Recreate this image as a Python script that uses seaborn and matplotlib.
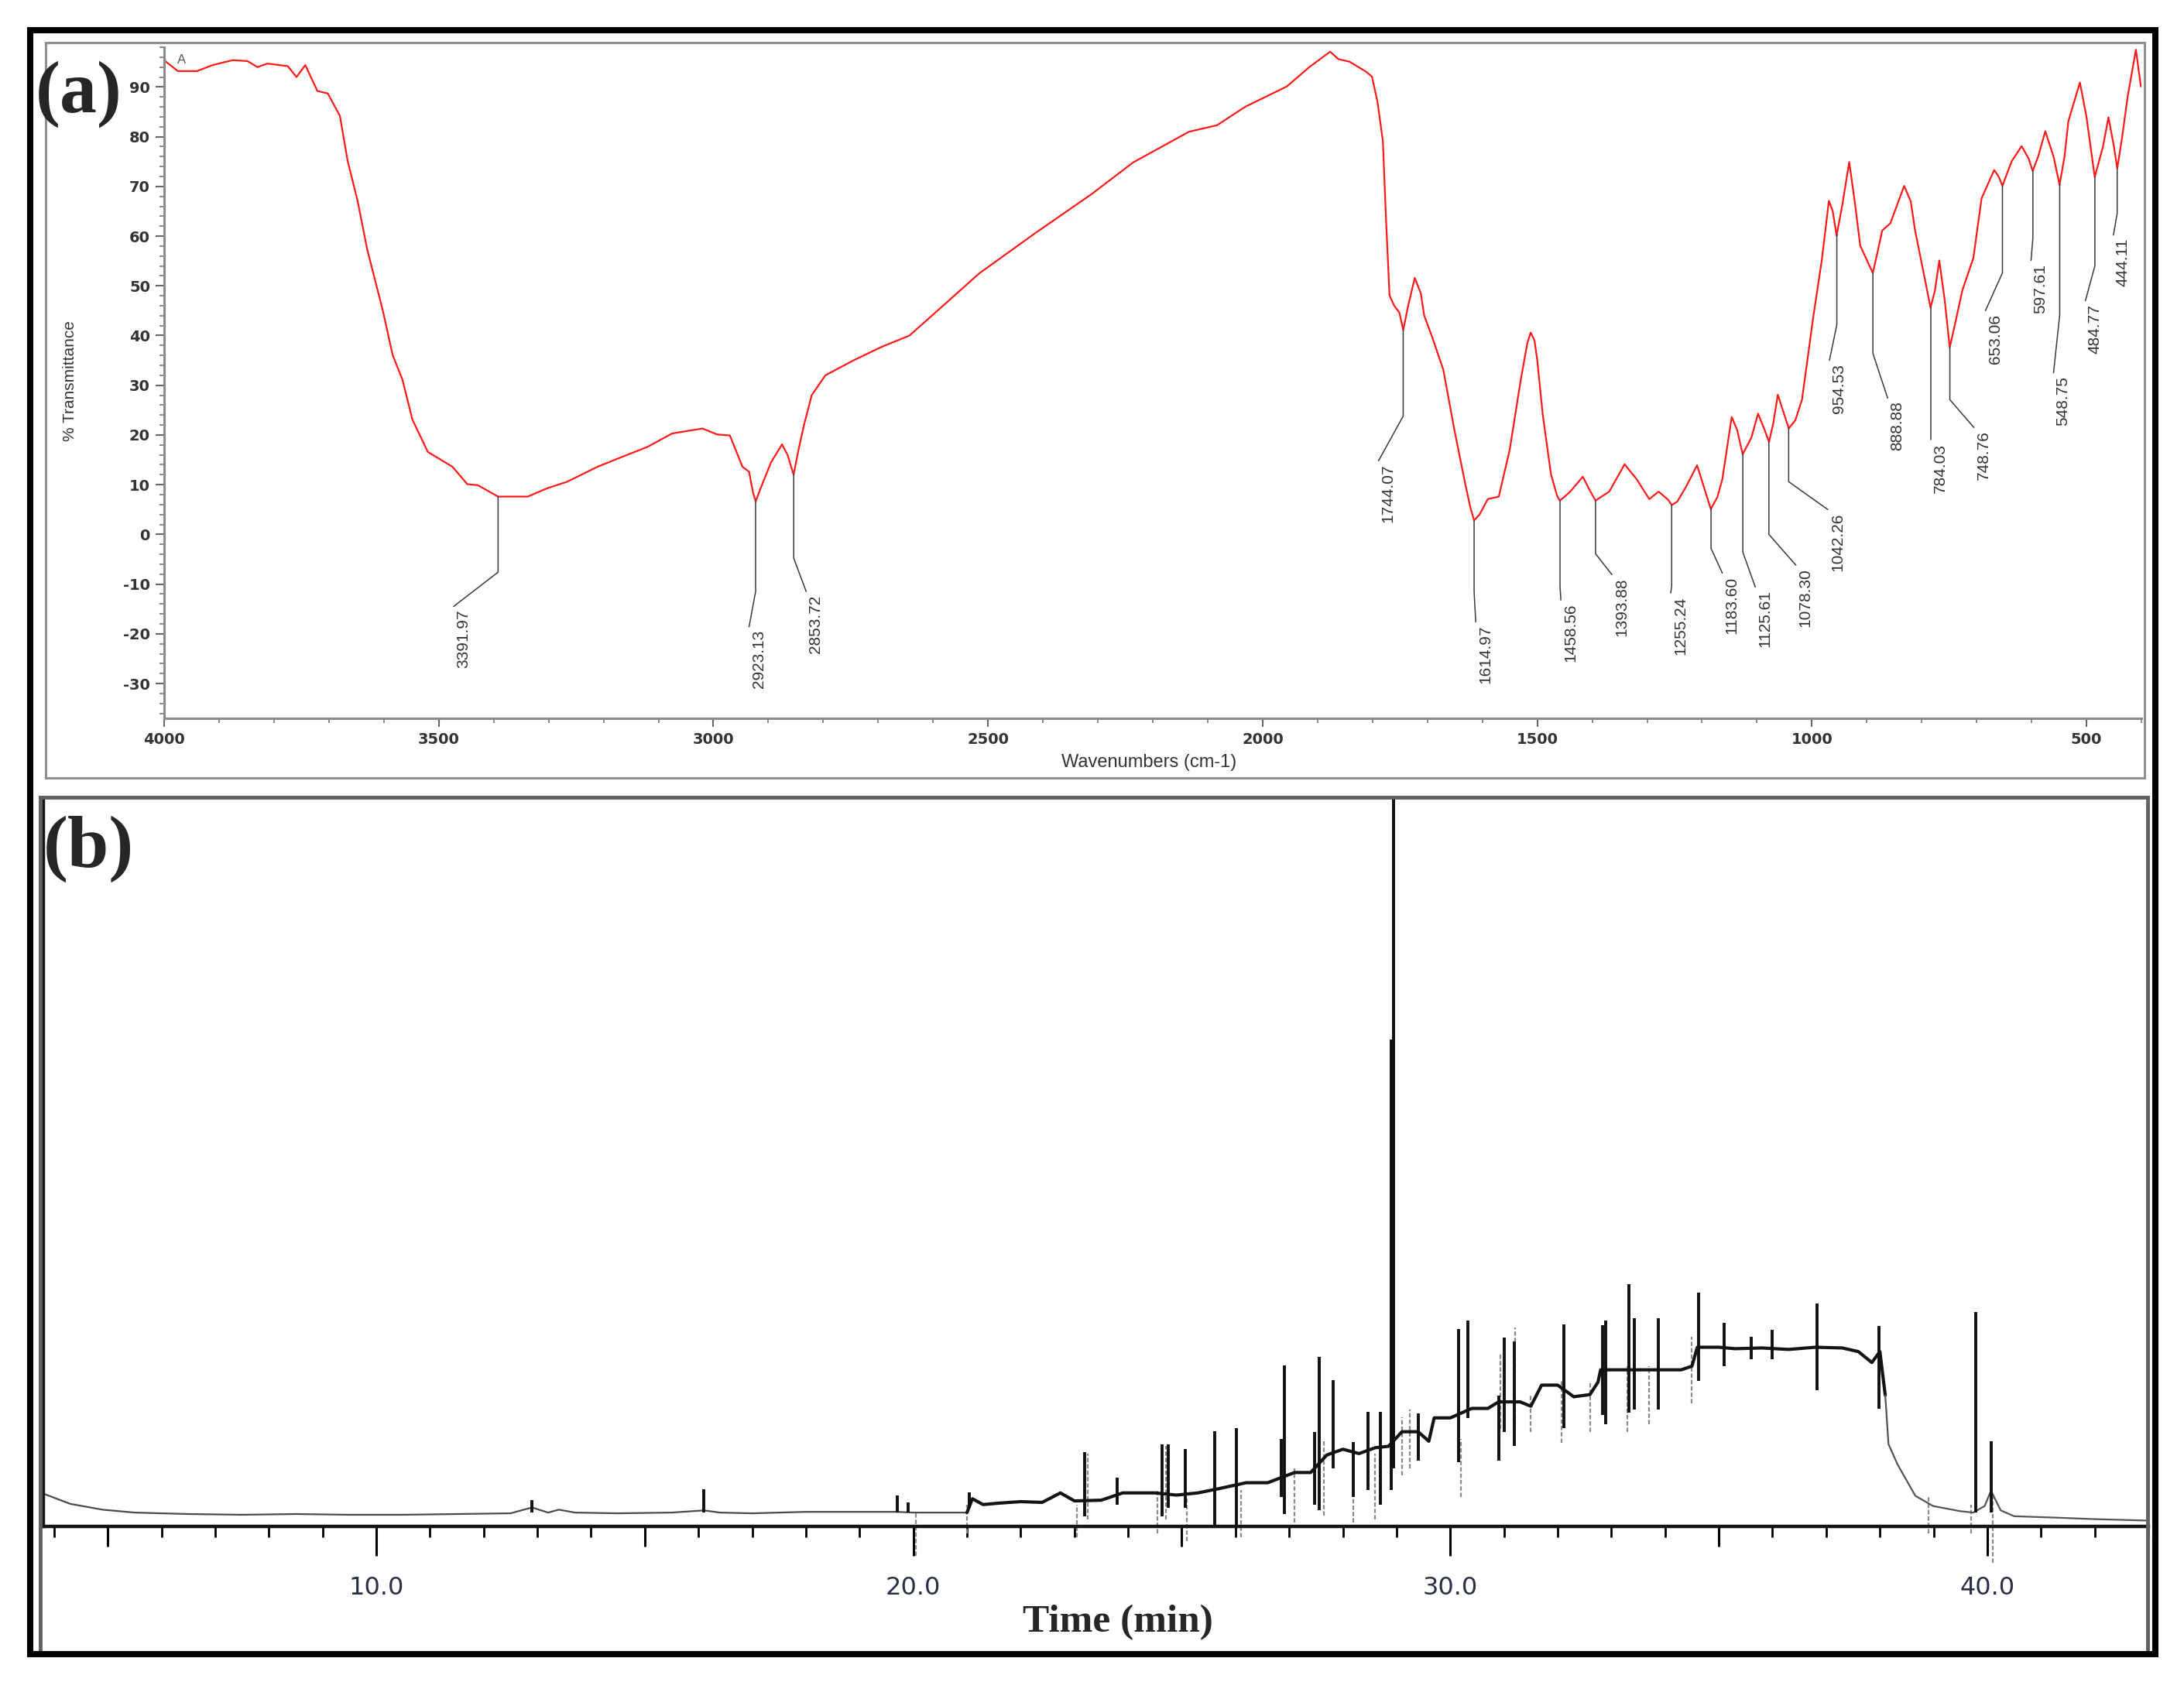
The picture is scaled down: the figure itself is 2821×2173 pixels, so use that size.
import matplotlib
matplotlib.use("Agg")
import matplotlib.pyplot as plt
import matplotlib.patches as patches
from matplotlib.ticker import MultipleLocator
import numpy as np
import pandas as pd
import seaborn as sns

sns.set_theme(style="white")
plt.rcParams['font.family'] = ['DejaVu Sans']

# ---- (a) FTIR spectrum ----
wavenumber = [3998, 3975, 3940, 3912, 3875, 3848, 3830, 3812, 3775, 3759, 3743, 3721,
              3702, 3680, 3666, 3648, 3630, 3602, 3584, 3566, 3548, 3520, 3475, 3448,
              3429, 3392, 3338, 3302, 3266, 3211, 3166, 3120, 3075, 3020, 2993, 2970,
              2947, 2935, 2928, 2923, 2915, 2895, 2875, 2865, 2854, 2845, 2835, 2821,
              2796, 2745, 2694, 2643, 2592, 2516, 2414, 2312, 2236, 2134, 2083, 2032,
              1956, 1915, 1877, 1862, 1842, 1812, 1801, 1791, 1781, 1776, 1769, 1761,
              1751, 1744, 1735, 1723, 1712, 1706, 1691, 1671, 1651, 1631, 1622, 1615,
              1605, 1590, 1570, 1550, 1530, 1518, 1512, 1505, 1500, 1490, 1475, 1464,
              1459, 1450, 1440, 1417, 1405, 1394, 1369, 1341, 1319, 1296, 1279, 1262,
              1255, 1245, 1229, 1209, 1195, 1184, 1172, 1163, 1146, 1136, 1126, 1110,
              1098, 1086, 1078, 1070, 1062, 1050, 1042, 1030, 1018, 997, 982, 969,
              962, 955, 945, 932, 922, 912, 895, 889, 880, 872, 857, 832, 820, 812,
              790, 784, 776, 768, 758, 749, 738, 726, 706, 691, 668, 660, 653, 645,
              636, 618, 605, 598, 588, 575, 560, 549, 540, 533, 512, 500, 485, 470,
              460, 450, 444, 435, 425, 410, 401]
transmittance = [95.2, 93.2, 93.2, 94.4, 95.4, 95.2, 94.0, 94.7, 94.2, 92.0, 94.4, 89.2,
                 88.7, 84.2, 75.2, 67.2, 57.2, 45.1, 36.1, 31.1, 23.1, 16.6, 13.6, 10.1,
                 9.9, 7.6, 7.6, 9.3, 10.6, 13.6, 15.6, 17.6, 20.3, 21.3, 20.1, 19.9,
                 13.6, 12.6, 8.5, 6.6, 9.0, 14.5, 18.1, 16.0, 12.0, 17.0, 22.0, 28.0,
                 32.0, 35.0, 37.7, 40.0, 45.0, 52.5, 60.6, 68.4, 74.8, 81.0, 82.3, 86.0,
                 90.1, 94.0, 97.1, 95.6, 95.1, 93.1, 92.1, 87.1, 79.1, 65.1, 48.1, 46.1,
                 44.6, 41.1, 46.0, 51.6, 48.5, 44.1, 39.6, 33.1, 21.1, 10.1, 5.5, 2.8,
                 4.0, 7.1, 7.6, 17.1, 31.1, 38.5, 40.6, 39.0, 35.1, 24.1, 12.1, 7.8,
                 6.8, 7.6, 8.6, 11.6, 9.0, 6.8, 8.6, 14.1, 11.1, 7.1, 8.6, 7.0,
                 5.9, 6.6, 9.6, 13.9, 9.0, 5.1, 7.5, 11.1, 23.6, 21.0, 16.1, 19.5,
                 24.3, 21.0, 18.6, 22.5, 28.1, 24.0, 21.3, 23.0, 27.1, 44.1, 55.1, 67.1,
                 65.0, 60.1, 66.0, 74.9, 67.0, 58.1, 54.0, 52.6, 57.0, 61.1, 62.6, 70.1, 67.0, 61.1,
                 49.0, 45.6, 49.0, 55.1, 47.0, 37.6, 43.0, 49.1, 55.6, 67.6, 73.3, 72.0, 70.1, 72.5,
                 75.1, 78.1, 75.5, 73.1, 76.0, 81.1, 76.0, 70.3, 76.0, 83.1, 90.9, 84.0, 71.9, 78.0,
                 83.9, 78.0, 73.6, 80.0, 88.1, 97.5, 90.1]

peak_wn = [3391.97, 2923.13, 2853.72, 1744.07, 1614.97, 1458.56, 1393.88, 1255.24,
           1183.60, 1125.61, 1078.30, 1042.26, 954.53, 888.88, 784.03, 748.76,
           653.06, 597.61, 548.75, 484.77, 444.11]
# leader layout for each peak label: knee value, end wavenumber, end value
leader_knee = [-7.6, -11.5, -4.8, 23.8, -11.5, -10.4, -3.9, -10.4, -2.8, -3.6, 0.0,
               10.6, 42.2, 36.4, 19.0, 27.1, 52.6, 59.6, 44.2, 54.0, 64.6]
leader_end_wn = [3473, 2935, 2831, 1789, 1612, 1457, 1364, 1257, 1163, 1103, 1029,
                 971, 968, 862, 784, 705, 684, 601, 560, 502, 451]
leader_end_val = [-14.5, -18.6, -11.5, 14.8, -17.6, -13.2, -8.1, -11.8, -7.8, -10.6,
                  -6.2, 5.0, 35.0, 27.4, 19.0, 21.5, 45.0, 55.1, 32.5, 47.0, 60.2]

# ---- (b) GC chromatogram ----
gc_time = [3.8, 4.3, 4.9, 5.5, 6.5, 7.5, 8.5, 9.5, 10.5, 11.5, 12.5, 12.9, 13.2, 13.4,
           13.7, 14.5, 15.5, 16.1, 16.4, 17.0, 18.0, 19.0, 19.7, 20.0, 20.5, 21.0, 21.1,
           21.3, 21.6, 22.0, 22.4, 22.74, 23.0, 23.5, 23.9, 24.5, 24.9, 25.3, 25.7, 26.2,
           26.6, 27.1, 27.4, 27.7, 28.0, 28.3, 28.6, 28.85, 29.1, 29.4, 29.6, 29.7, 30.0,
           30.4, 30.7, 30.9, 31.3, 31.5, 31.7, 32.0, 32.3, 32.6, 32.75, 32.8, 33.4, 34.0,
           34.3, 34.5, 34.6, 34.8, 35.0, 35.3, 35.8, 36.3, 36.8, 37.3, 37.6, 37.85, 38.0,
           38.1, 38.16, 38.33, 38.66, 38.99, 39.49, 39.74, 39.95, 40.07, 40.25, 40.5,
           41.3, 42.0, 43.0]
gc_signal = [4.5, 3.1, 2.3, 1.9, 1.7, 1.6, 1.7, 1.6, 1.6, 1.7, 1.8, 2.6, 1.9, 2.3,
             1.9, 1.8, 1.9, 2.2, 1.9, 1.8, 2.0, 2.0, 2.0, 1.9, 1.9, 1.9, 3.8,
             3.0, 3.2, 3.4, 3.3, 4.6, 3.5, 3.6, 4.6, 4.6, 4.3, 4.6, 5.2, 6.0,
             6.0, 7.4, 7.4, 9.8, 10.6, 10.0, 10.8, 11.0, 13.0, 13.0, 11.7, 14.9, 14.9,
             16.2, 16.2, 17.1, 17.1, 16.5, 19.4, 19.4, 17.8, 18.1, 19.8, 21.5, 21.5, 21.5,
             21.5, 22.0, 24.6, 24.6, 24.6, 24.4, 24.5, 24.3, 24.6, 24.5, 24.0, 22.5, 24.0,
             18.0, 11.3, 8.5, 4.2, 2.8, 2.1, 1.9, 2.8, 4.9, 2.2, 1.4,
             1.2, 1.0, 0.8]

spike_time = [12.9, 16.1, 19.7, 19.9, 21.05, 23.19, 23.8, 24.63, 24.75, 25.06, 25.61,
              26.02, 26.85, 26.91, 27.48, 27.56, 27.82, 28.2, 28.47, 28.7, 28.9, 28.95,
              29.4, 30.15, 30.33, 30.9, 31.0, 31.19, 32.12, 32.84, 32.9, 33.32, 33.43,
              33.87, 34.62, 35.1, 35.6, 36.0, 36.83, 37.98, 39.79, 40.07]
spike_low = [1.9, 1.9, 1.9, 1.9, 2.5, 1.4, 3.0, 1.4, 2.5, 2.5, 0.0,
             0.0, 4.0, 1.7, 3.0, 2.2, 8.0, 4.0, 5.0, 3.0, 5.0, 8.0,
             9.0, 8.8, 14.9, 9.0, 13.0, 11.0, 13.5, 15.3, 14.0, 15.6, 16.0,
             16.0, 20.0, 22.0, 23.0, 23.0, 18.7, 16.2, 1.9, 1.9]
spike_high = [3.6, 5.1, 4.3, 3.3, 4.7, 10.2, 6.7, 11.3, 11.3, 10.6, 13.1,
              13.5, 12.0, 22.1, 13.0, 23.3, 20.1, 11.6, 15.7, 15.7, 66.8, 115.0,
              15.5, 27.1, 28.3, 18.0, 25.9, 25.4, 27.7, 27.6, 28.3, 33.3, 28.6,
              28.6, 32.1, 27.9, 26.0, 27.0, 30.6, 27.5, 29.4, 11.7]

ghost_time = [20.05, 21.0, 23.05, 23.25, 24.55, 24.7, 25.1, 26.1, 27.1, 27.65, 28.2,
              28.6, 29.1, 29.25, 30.2, 30.94, 31.2, 31.5, 32.07, 32.6, 32.9, 33.3,
              33.7, 34.5, 38.9, 39.7, 40.1]
ghost_low = [-4.0, -1.0, -1.5, 1.0, -1.0, 1.0, -2.0, -1.5, 0.5, 1.5, 0.5,
             1.0, 7.0, 8.0, 4.0, 13.4, 13.1, 13.0, 11.5, 13.0, 14.0, 13.0,
             14.0, 16.9, -1.0, -1.0, -5.0]
ghost_high = [2.0, 3.0, 3.0, 10.0, 5.0, 11.0, 4.0, 5.0, 8.0, 12.0, 11.0,
              10.0, 15.0, 16.0, 12.0, 23.8, 27.3, 18.0, 20.0, 20.0, 21.0, 22.0,
              22.0, 26.0, 4.0, 3.0, 4.0]

W, H = 2821, 2173
fig = plt.figure(figsize=(W / 100, H / 100), dpi=100)


def box(l, t, r, b):
    return [l / W, 1 - b / H, (r - l) / W, (b - t) / H]


def frame(l, t, r, b, color, lw):
    fig.add_artist(patches.Rectangle((l / W, 1 - b / H), (r - l) / W, (b - t) / H,
                                     transform=fig.transFigure, fill=False,
                                     edgecolor=color, linewidth=lw))


frame(59, 55, 2770, 1005, '#8f8f8f', 2.2)
frame(52, 1030, 2774, 2137, '#606060', 3.5)
frame(39, 39, 2784, 2137, 'black', 5.8)

# ---------------- panel (a) ----------------
ax_a = fig.add_axes(box(212, 61, 2766, 928))
ax_a.set_facecolor('none')
ftir = pd.DataFrame({'wn': wavenumber, 't': transmittance})
sns.lineplot(data=ftir, x='wn', y='t', sort=False, estimator=None,
             color='#ff1a1a', linewidth=1.6, ax=ax_a)
ax_a.set_xlim(4000, 400)
ax_a.set_ylim(-37, 98)
xt = [4000, 3500, 3000, 2500, 2000, 1500, 1000, 500]
yt = list(range(-30, 91, 10))
ax_a.set_xticks(xt, labels=[str(v) for v in xt], fontsize=14, fontweight='bold', color='#333333')
ax_a.set_yticks(yt, labels=[str(v) for v in yt], fontsize=14, fontweight='bold', color='#333333')
ax_a.xaxis.set_minor_locator(MultipleLocator(100))
ax_a.yaxis.set_minor_locator(MultipleLocator(2))
ax_a.tick_params(which='major', direction='out', length=8, width=1.5, color='#666666', pad=5)
ax_a.tick_params(which='minor', direction='out', length=4, width=1.2, color='#777777')
ax_a.tick_params(left=True, bottom=True, which='both')
for s in ['top', 'right']:
    ax_a.spines[s].set_visible(False)
for s in ['left', 'bottom']:
    ax_a.spines[s].set_color('#8a8a8a')
    ax_a.spines[s].set_linewidth(2.2)
ax_a.set_xlabel('')
ax_a.set_ylabel('')

# peak labels with leader lines
wn_inc = wavenumber[::-1]
tr_inc = transmittance[::-1]
for wn, knee, ew, ev in zip(peak_wn, leader_knee, leader_end_wn, leader_end_val):
    start = np.interp(wn, wn_inc, tr_inc)
    ax_a.plot([wn, wn, ew], [start, knee, ev], color='#3a3a3a', linewidth=1.1)
    ax_a.annotate(f'{wn:.2f}', xy=(ew, ev), xytext=(9, -3), textcoords='offset points',
                  rotation=90, ha='center', va='top', fontsize=15, color='#333333',
                  family=['Liberation Sans', 'DejaVu Sans'])
ax_a.text(3976, 95.5, 'A', fontsize=12, color='#555555', ha='left', va='center',
          family=['Liberation Sans', 'DejaVu Sans'])

fig.text(90 / W, 1 - 492 / H, '% Transmittance', rotation=90, ha='center', va='center',
         fontsize=15, color='#333333', family=['Liberation Sans', 'DejaVu Sans'])
fig.text(1484 / W, 1 - 985 / H, 'Wavenumbers (cm-1)', ha='center', va='center',
         fontsize=17, color='#333333', family=['Liberation Sans', 'DejaVu Sans'])

# ---------------- panel (b) ----------------
ax_b = fig.add_axes(box(56, 1031, 2775, 1972))
ax_b.set_facecolor('none')
gc = pd.DataFrame({'time': gc_time, 'signal': gc_signal})
ax_b.vlines(ghost_time, ghost_low, ghost_high, color='#8a8a8a', linewidth=1.6,
            linestyles=(0, (2.5, 1.2)), clip_on=False)
early = gc[gc['time'] <= 21.0]
busy = gc[(gc['time'] >= 21.0) & (gc['time'] <= 38.1)]
tail = gc[gc['time'] >= 38.1]
sns.lineplot(data=early, x='time', y='signal', sort=False, estimator=None,
             color='#4a4a4a', linewidth=1.6, ax=ax_b)
sns.lineplot(data=busy, x='time', y='signal', sort=False, estimator=None,
             color='#141414', linewidth=3.0, ax=ax_b)
sns.lineplot(data=tail, x='time', y='signal', sort=False, estimator=None,
             color='#555555', linewidth=1.6, ax=ax_b)
ax_b.vlines(spike_time, spike_low, spike_high, color='#111111', linewidth=2.8)
ax_b.set_xlim(3.8, 43.0)
ax_b.set_ylim(0, 100)
ax_b.set_yticks([])
bt = [10, 20, 30, 40]
ax_b.set_xticks(bt, labels=[f'{v:.1f}' for v in bt], fontsize=23, color='#2b2f45')
ax_b.xaxis.set_minor_locator(MultipleLocator(1))
ax_b.tick_params(axis='x', which='major', direction='out', length=27, width=2.2,
                 color='black', pad=19, bottom=True)
ax_b.tick_params(axis='x', which='minor', direction='out', length=10, width=2.0,
                 color='black', bottom=True)
sec = ax_b.secondary_xaxis('bottom')
sec.set_xticks([5, 15, 25, 35])
sec.tick_params(axis='x', length=19, width=2.2, color='black', labelbottom=False)
sec.spines['bottom'].set_visible(False)
for s in ['top', 'right']:
    ax_b.spines[s].set_visible(False)
for s in ['left', 'bottom']:
    ax_b.spines[s].set_color('#151515')
    ax_b.spines[s].set_linewidth(3.2)
ax_b.set_xlabel('')
ax_b.set_ylabel('')

fig.text(1444 / W, 1 - 2096 / H, 'Time (min)', ha='center', va='center', fontsize=37,
         fontweight='bold', family=['Liberation Serif', 'DejaVu Serif'])

fig.text(46 / W, 1 - 122 / H, '(a)', ha='left', va='center', fontsize=69,
         fontweight='bold', family=['Liberation Serif', 'DejaVu Serif'])
fig.text(56 / W, 1 - 1097 / H, '(b)', ha='left', va='center', fontsize=69,
         fontweight='bold', family=['Liberation Serif', 'DejaVu Serif'])

fig.savefig('out.png', dpi=100, facecolor='white')
